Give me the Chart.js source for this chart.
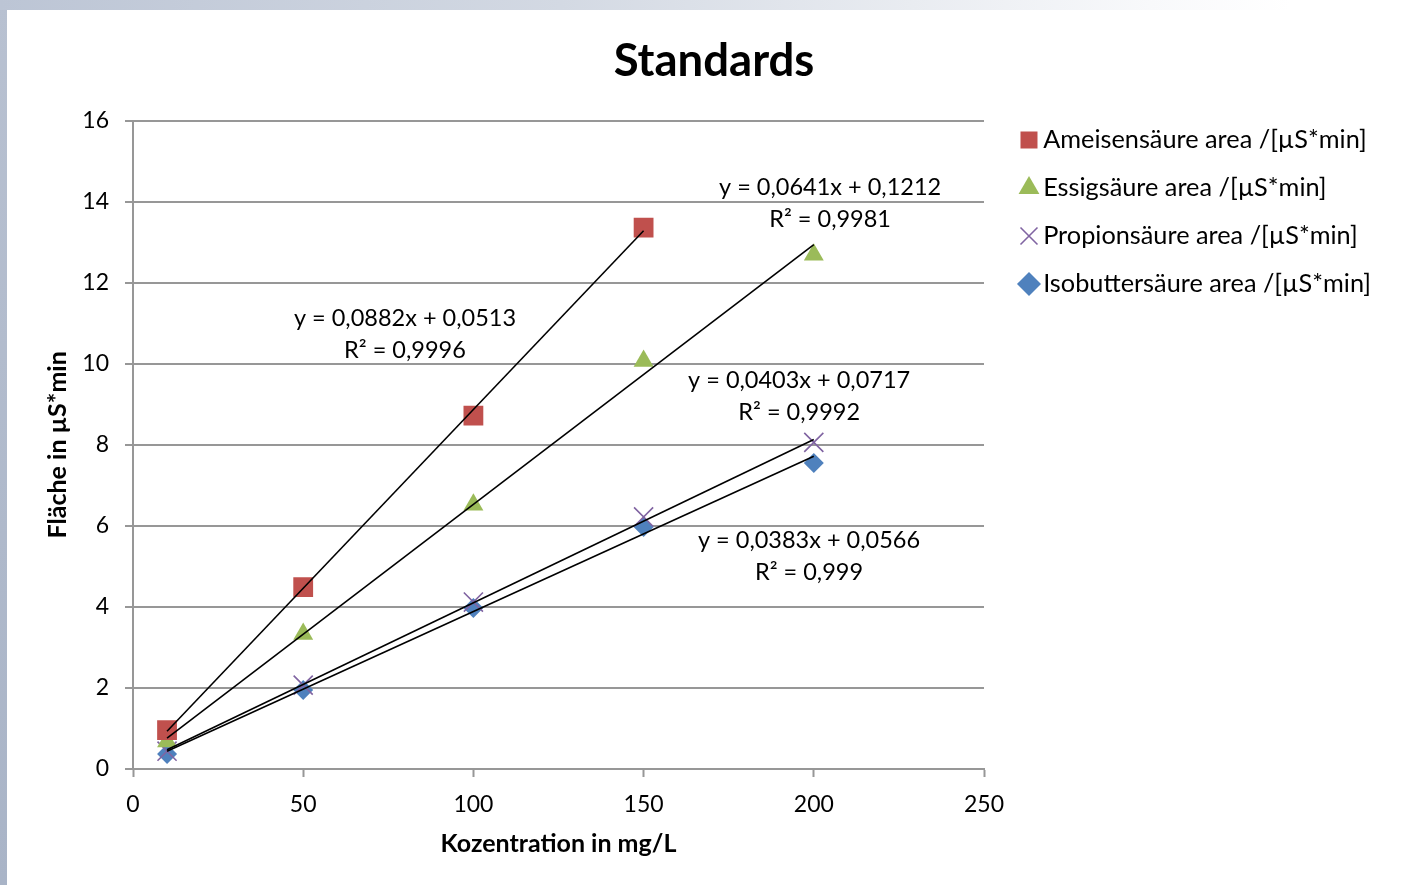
<!DOCTYPE html>
<html>
<head>
<meta charset="utf-8">
<title>Standards</title>
<script src="https://cdn.jsdelivr.net/npm/chart.js@4/dist/chart.umd.min.js"></script>
<style>
  html, body { margin: 0; padding: 0; width: 1403px; height: 885px; overflow: hidden; }
  #frame { position: absolute; left: 0; top: 0; width: 1403px; height: 885px;
           background: linear-gradient(to bottom, #b8c1d1, #a9b4c7); }
  #topstrip { position: absolute; left: 0; top: 0; width: 1403px; height: 10px;
              background: linear-gradient(to right, #bcc5d5 0%, #d3d9e3 40%, #e9ecf1 65%, #f8f9fb 82%, #ffffff 92%); }
  #sheet { position: absolute; left: 7px; top: 10px; right: 0; bottom: 0; background: #ffffff; }
  #chart { position: absolute; left: 0; top: 0; }
</style>
</head>
<body>
<div id="frame"></div>
<div id="topstrip"></div>
<div id="sheet"></div>
<canvas id="chart" width="1403" height="885"></canvas>
<script>
// Calibration standards: peak area vs. concentration
const concentrations = [10, 50, 100, 150, 200];
const ameisensaeure   = [0.96, 4.49, 8.72, 13.36];
const essigsaeure     = [0.68, 3.33, 6.52, 10.07, 12.69];
const propionsaeure   = [0.44, 2.07, 4.12, 6.22, 8.06];
const isobuttersaeure = [0.37, 1.95, 3.97, 5.97, 7.55];

const seriesNames = [
  'Ameisensäure area /[µS*min]',
  'Essigsäure area /[µS*min]',
  'Propionsäure area /[µS*min]',
  'Isobuttersäure area /[µS*min]'
];

// Linear regression results (slope, intercept, R²)
const slopes     = [0.0882, 0.0641, 0.0403, 0.0383];
const intercepts = [0.0513, 0.1212, 0.0717, 0.0566];
const equationLabels = ['y = 0,0882x + 0,0513', 'y = 0,0641x + 0,1212', 'y = 0,0403x + 0,0717', 'y = 0,0383x + 0,0566'];
const r2Labels = ['R² = 0,9996', 'R² = 0,9981', 'R² = 0,9992', 'R² = 0,999'];

const xTicks = [0, 50, 100, 150, 200, 250];
const yTicks = [0, 2, 4, 6, 8, 10, 12, 14, 16];

// Where each regression label sits, in axis units
const labelAnchors = [
  { x: 79.9, y: 11.11 },
  { x: 204.8, y: 14.35 },
  { x: 195.7, y: 9.60 },
  { x: 198.6, y: 5.65 }
];

const seriesValues = [ameisensaeure, essigsaeure, propionsaeure, isobuttersaeure];
const colors = ['#C0504D', '#9BBB59', '#8064A2', '#4F81BD'];
const markers = [
  { style: 'rect', radius: 14 },
  { style: 'triangle', radius: 11.5 },
  { style: 'crossRot', radius: 13.5 },
  { style: 'rectRot', radius: 10 }
];

const FONT = 'Lato';
const TEXT_SIZE = 23.5;
const LEGEND_SIZE = 25.3;
const LEGEND_ROW = 48;
Chart.defaults.font.family = FONT;
Chart.defaults.color = '#000000';

// Outer frame of the chart
const PAD = { left: 47, right: 22, top: 12, bottom: 0 };
const PLOT_LEFT = 133, PLOT_RIGHT = 984, PLOT_BOTTOM = 769;

const pointSets = seriesValues.map((vals, i) => ({
  label: seriesNames[i],
  data: vals.map((v, k) => ({ x: concentrations[k], y: v })),
  showLine: false,
  pointStyle: markers[i].style,
  pointRadius: markers[i].radius,
  pointHoverRadius: markers[i].radius,
  backgroundColor: colors[i],
  borderColor: colors[i],
  pointBorderWidth: markers[i].style === 'crossRot' ? 1.6 : 0,
  order: 2
}));

const trendSets = seriesValues.map((vals, i) => {
  const xs = vals.map((v, k) => concentrations[k]);
  const x0 = Math.min(...xs), x1 = Math.max(...xs);
  return {
    label: 'trend-' + i,
    isTrend: true,
    data: [
      { x: x0, y: slopes[i] * x0 + intercepts[i] },
      { x: x1, y: slopes[i] * x1 + intercepts[i] }
    ],
    showLine: true,
    borderColor: '#000000',
    borderWidth: 1.6,
    pointRadius: 0,
    pointHoverRadius: 0,
    fill: false,
    order: 1
  };
});

const regressionLabels = {
  id: 'regressionLabels',
  afterDatasetsDraw(chart) {
    const { ctx, scales: { x, y } } = chart;
    ctx.save();
    ctx.fillStyle = '#000000';
    ctx.font = TEXT_SIZE + 'px ' + FONT;
    ctx.textAlign = 'center';
    ctx.textBaseline = 'middle';
    labelAnchors.forEach((a, i) => {
      const px = x.getPixelForValue(a.x);
      const py = y.getPixelForValue(a.y);
      ctx.fillText(equationLabels[i], px, py);
      ctx.fillText(r2Labels[i], px, py + 32);
    });
    ctx.restore();
  }
};

const gridGray = '#979797';
const legendPad = LEGEND_ROW - LEGEND_SIZE;

new Chart(document.getElementById('chart'), {
  type: 'scatter',
  data: { datasets: [...pointSets, ...trendSets] },
  options: {
    responsive: false,
    animation: false,
    events: [],
    layout: { padding: PAD },
    plugins: {
      title: {
        display: true,
        text: 'Standards',
        font: { size: 45.5, weight: 'bold' },
        color: '#000000',
        padding: { top: 22, bottom: 32 }
      },
      legend: {
        position: 'right',
        align: 'start',
        maxWidth: 600,
        title: { display: true, text: '', font: { size: 10 }, padding: { top: 140 - PAD.top - legendPad - LEGEND_SIZE / 2 - 12, bottom: 0 } },
        labels: {
          usePointStyle: true,
          boxWidth: 3,
          boxHeight: 17,
          padding: legendPad,
          color: '#000000',
          font: { size: LEGEND_SIZE },
          filter: (item, data) => !data.datasets[item.datasetIndex].isTrend
        }
      },
      tooltip: { enabled: false }
    },
    scales: {
      x: {
        type: 'linear',
        min: xTicks[0],
        max: xTicks[xTicks.length - 1],
        afterBuildTicks: s => { s.ticks = xTicks.map(v => ({ value: v })); },
        ticks: { font: { size: 23 }, color: '#000000', padding: 14 },
        grid: { drawOnChartArea: false, drawTicks: true, tickLength: 8, tickColor: gridGray, tickWidth: 2 },
        border: { color: gridGray, width: 2 },
        title: {
          display: true,
          text: 'Kozentration in mg/L',
          font: { size: 25, weight: 'bold' },
          color: '#000000',
          padding: { top: 0, bottom: 26 }
        },
        afterFit: s => { s.height = 885 - PAD.bottom - PLOT_BOTTOM; }
      },
      y: {
        type: 'linear',
        min: yTicks[0],
        max: yTicks[yTicks.length - 1],
        afterBuildTicks: s => { s.ticks = yTicks.map(v => ({ value: v })); },
        ticks: { font: { size: 23 }, color: '#000000', padding: 16 },
        grid: { color: gridGray, lineWidth: 2, tickLength: 8, tickColor: gridGray, tickWidth: 2 },
        border: { color: gridGray, width: 2 },
        title: {
          display: true,
          text: 'Fläche in µS*min',
          font: { size: 25, weight: 'bold', lineHeight: 0.88 },
          color: '#000000',
          padding: { top: 0, bottom: 0 }
        },
        afterFit: s => { s.width = PLOT_LEFT - PAD.left; }
      },
      gap: {
        type: 'linear',
        position: 'right',
        display: true,
        grid: { display: false },
        ticks: { display: false },
        border: { display: false },
        afterFit: s => {
          const lw = s.chart.legend ? s.chart.legend.width : 0;
          s.width = Math.max(0, s.chart.width - PAD.right - lw - PLOT_RIGHT);
        }
      }
    }
  },
  plugins: [regressionLabels]
});
</script>
</body>
</html>
